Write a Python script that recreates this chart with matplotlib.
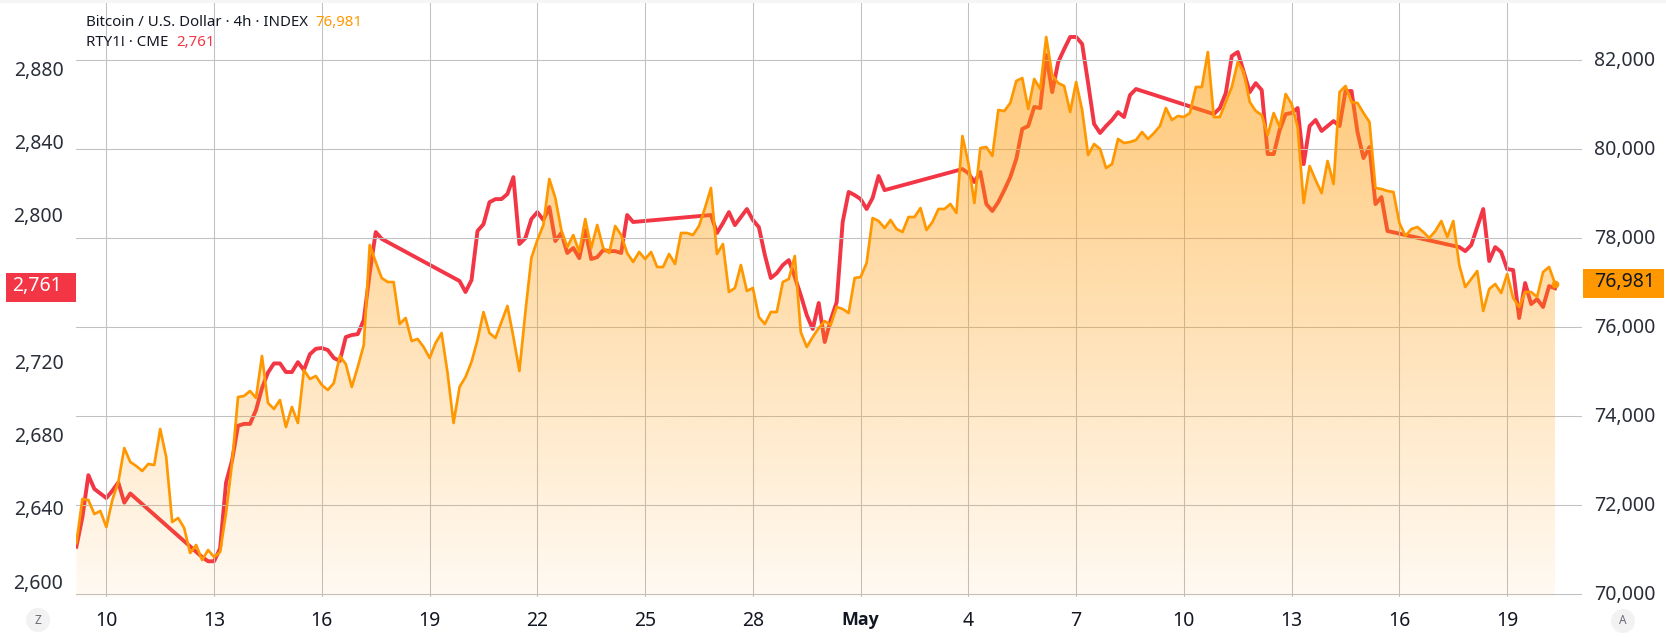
import numpy as np
import matplotlib
matplotlib.use("Agg")
import matplotlib.pyplot as plt
from matplotlib.patches import Rectangle, Circle
from matplotlib.transforms import ScaledTranslation

plt.rcParams['font.family'] = ['Noto Sans', 'DejaVu Sans']

btc_close = [
71153,72141,72119,71804,71872,71512,72119,72523,73287,72973,72883,72771,72928,72905,73714,73085,
71625,71715,71490,70928,71108,70771,70995,70838,70950,71827,72950,74433,74456,74568,74411,75355,
74299,74164,74366,73759,74209,73849,75040,74838,74905,74703,74591,74748,75355,75175,74658,75107,
75602,77849,77467,77107,77017,77017,76074,76209,75692,75737,75557,75310,75647,75871,74973,73849,
74658,74883,75220,75714,76343,75871,75759,76119,76478,75781,75018,76343,77557,77961,78298,79332,
78905,78186,77804,78073,77692,78433,77782,78298,77782,77669,78276,78073,77669,77467,77692,77534,
77692,77355,77355,77647,77422,78119,78119,78073,78276,78680,79130,77647,77871,76793,76883,77399,
76815,76883,76231,76074,76343,76343,77017,77085,77602,75894,75557,75781,75984,76141,76051,76456,
76411,76321,77107,77130,77444,78455,78388,78231,78411,78208,78141,78478,78478,78680,78186,78366,
78658,78658,78770,78568,80298,79691,78793,80028,80051,79849,80882,80860,81040,81534,81601,80905,
81579,81354,82523,81669,81489,81422,80837,81511,80882,79871,80118,80006,79579,79669,80231,80141,
80163,80208,80388,80231,80365,80523,80927,80658,80748,80725,80815,81399,81399,82186,80725,80725,
81062,81399,81961,81736,81062,80860,80770,80320,80815,80500,81242,81017,80500,78793,79624,79309,
79017,79736,79220,81287,81422,81062,81040,80815,80613,79130,79107,79062,79040,78343,78051,78208,
78253,78141,78006,78163,78388,78028,78388,77399,76905,77085,77264,76366,76860,76972,76770,77197,
76658,76456,76793,76793,76680,77242,77355,76981]

rty_close = (
[2620,2636,2659,2651.5,2649,2646.5,2650.5,2655,2644,2649]
+ [None]*11 +
[2614.3,2612,2612,2619,2655,2667,2686,2687,2687,2694.5,2706.5,2715,2720,2720,2715.3,2715.3,
 2720.7,2716.4,2725,2728,2728.4,2727.3,2723,2721.3,2734.4,2735.5,2736,2743.7,2769.3,2791.7,2788]
+ [None]*12 +
[2765,2759,2765.5,2792.3,2796,2808,2809.7,2809.7,2812.5,2821.7,2785.2,2788.4,2798.8,2802.6,2798.3,
 2805.4,2786.8,2791.2,2780.3,2783,2777.5,2792.8,2777,2778,2781.9,2781.3,2781.3,2780.3,2801,2797.2]
+ [None]*12 +
[2801,2791.2,2796.6,2802.6,2795.5,2799.9,2804.3,2798.3,2794.4,2779.2,2766.6,2769.3,2773.7,2776.4,
 2767.2,2757.3,2746.4,2738.8,2753,2731.7,2743.7,2753.5,2797.2,2813.6,2811.9,2809.7,2804.3,2810.3,
 2822.3,2814.6]
+ [None]*12 +
[2826.1,2823.9,2819,2824.5,2807,2803.2,2808.1,2814.6,2821.7,2831.6,2848,2849.6,2860,2859.4,2888.3,
 2868.1,2884.5,2891.6,2898.2,2898.2,2894.4,2873,2850.7,2845.8,2849.6,2852.9,2857.2,2854.5,2866.5,2869.8]
+ [None]*12 +
[2856.1,2859.4,2867.6,2887.8,2890,2879.1,2868.1,2873,2869.2,2834.3,2834.3,2847.4,2856.1,2856.7,2859.4,
 2828.8,2849.6,2852.9,2846.9,2849.6,2852.3,2849.6,2868.7,2868.7,2846.3,2832.1,2838.1,2807,2810.8,2792.3]
+ [None]*11 +
[2783.5,2781.3,2784.6,2794.4,2804.3,2775.9,2783.5,2780.8,2771.5,2771,2744.8,2763.9,2752.4,2755.1,
 2750.8,2762.2,2761])

x_tick_bars = [5,23,41,59,77,95,113,131,149,167,185,203,221,239]
x_tick_labels = ['10','13','16','19','22','25','28','May','4','7','10','13','16','19']
btc_ticks = [70000,72000,74000,76000,78000,80000,82000]
rty_ticks = [2600,2640,2680,2720,2800,2840,2880]
btc_last = 76981
rty_last = 2761

W, H = 1666, 637
fig = plt.figure(figsize=(W/100, H/100), dpi=100, facecolor='white')
L, R, T, B = 76, 1582, 2, 597
ax2 = fig.add_axes([L/W, (H-B)/H, (R-L)/W, (B-T)/H])
ax = ax2.twinx()
ax.set_zorder(2); ax2.set_zorder(1); ax.patch.set_visible(False)

xlim = (-0.067, 251.5)
ylim_btc = (69939.6, 83309)
ylim_rty = (2592.5, 2917.3)

RED, ORANGE = '#f23645', '#ff9800'
TXT = '#131722'

bars = np.arange(len(btc_close))
rty = np.array([np.nan if v is None else v for v in rty_close], dtype=float)
mask = ~np.isnan(rty)
ax2.plot(bars[mask], rty[mask], color=RED, lw=2.8, solid_joinstyle='round', zorder=3)

poly = ax.fill_between(bars, btc_close, ylim_btc[0], color='none', lw=0)
grad = np.zeros((256, 1, 4))
grad[..., 0] = 1.0; grad[..., 1] = 152/255; grad[..., 2] = 0.0
grad[:, 0, 3] = np.linspace(0.55, 0.05, 256)
im = ax.imshow(grad, extent=[bars[0], bars[-1], ylim_btc[0], max(btc_close)],
               aspect='auto', origin='upper', zorder=2, interpolation='bilinear')
im.set_clip_path(poly.get_paths()[0], ax.transData)
ax.plot(bars, btc_close, color=ORANGE, lw=1.95, solid_joinstyle='round', zorder=3)
ax.plot([bars[-1]], [btc_close[-1]], 'o', color=ORANGE, ms=5.5, mew=0, zorder=4)

ax.set_xlim(*xlim); ax2.set_xlim(*xlim)
ax.set_ylim(*ylim_btc); ax2.set_ylim(*ylim_rty)

for a in (ax, ax2):
    for s in a.spines.values():
        s.set_visible(False)

ax.set_axisbelow(True)
ax.set_yticks(btc_ticks)
ax.set_yticklabels([f'{v:,}' for v in btc_ticks])
ax2.set_yticks(rty_ticks)
ax2.set_yticklabels([f'{v:,}' for v in rty_ticks])
ax2.set_xticks(x_tick_bars)
ax2.set_xticklabels(x_tick_labels)
ax.xaxis.set_visible(True)
ax.set_xticks(x_tick_bars)
ax.tick_params(axis='x', length=0, labelbottom=False, labeltop=False)
ax.grid(True, color='#c0c1c3', lw=0.75, zorder=0.5)
ax2.grid(False)
ax.tick_params(axis='y', length=0, pad=8.8, labelsize=14, labelcolor='#2a2e39')
ax2.tick_params(axis='y', length=0, pad=9.0, labelsize=14, labelcolor='#2a2e39')
ax2.tick_params(axis='x', length=0, pad=10.3, labelsize=14, labelcolor=TXT)
for lab in ax2.get_xticklabels():
    if lab.get_text() == 'May':
        lab.set_fontfamily(['Open Sans', 'DejaVu Sans'])
        lab.set_fontweight('bold')
        lab.set_fontsize(12.8)
up = ScaledTranslation(0, 2/100, fig.dpi_scale_trans)
for a in (ax, ax2):
    for lab in a.get_yticklabels():
        lab.set_transform(lab.get_transform() + up)

overlay = fig.add_axes([0, 0, 1, 1], zorder=5)
overlay.set_xlim(0, W); overlay.set_ylim(H, 0); overlay.axis('off'); overlay.patch.set_visible(False)
overlay.add_patch(Rectangle((0, 0), W, 2.5, color='#f5f5f5', lw=0))
overlay.add_patch(Rectangle((6, 273), 70, 29, color=RED, lw=0))
overlay.add_patch(Rectangle((1583, 269), 81, 29, color=ORANGE, lw=0))
overlay.text(37.5, 286, f'{rty_last:,}', color='white', fontsize=14, ha='center', va='center')
overlay.text(1625, 281.5, f'{btc_last:,}', color=TXT, fontsize=14, ha='center', va='center')
overlay.add_patch(Circle((38, 620), 12, color='#f2f2f2', lw=0))
overlay.add_patch(Circle((1623, 621), 12, color='#f2f2f2', lw=0))
overlay.text(38, 620, 'Z', color='#6a6d78', fontsize=8.5, ha='center', va='center')
overlay.text(1623, 621, 'A', color='#6a6d78', fontsize=8.5, ha='center', va='center')

overlay.text(86, 22, 'Bitcoin / U.S. Dollar · 4h · INDEX', color=TXT, fontsize=10.8, ha='left', va='center')
overlay.text(315, 22, f'{btc_last:,}', color=ORANGE, fontsize=10.8, ha='left', va='center')
overlay.text(86, 43, 'RTY1! · CME', color=TXT, fontsize=10.8, ha='left', va='center')
overlay.text(176, 43, f'{rty_last:,}', color=RED, fontsize=10.8, ha='left', va='center')

fig.savefig('out.png', dpi=100)
